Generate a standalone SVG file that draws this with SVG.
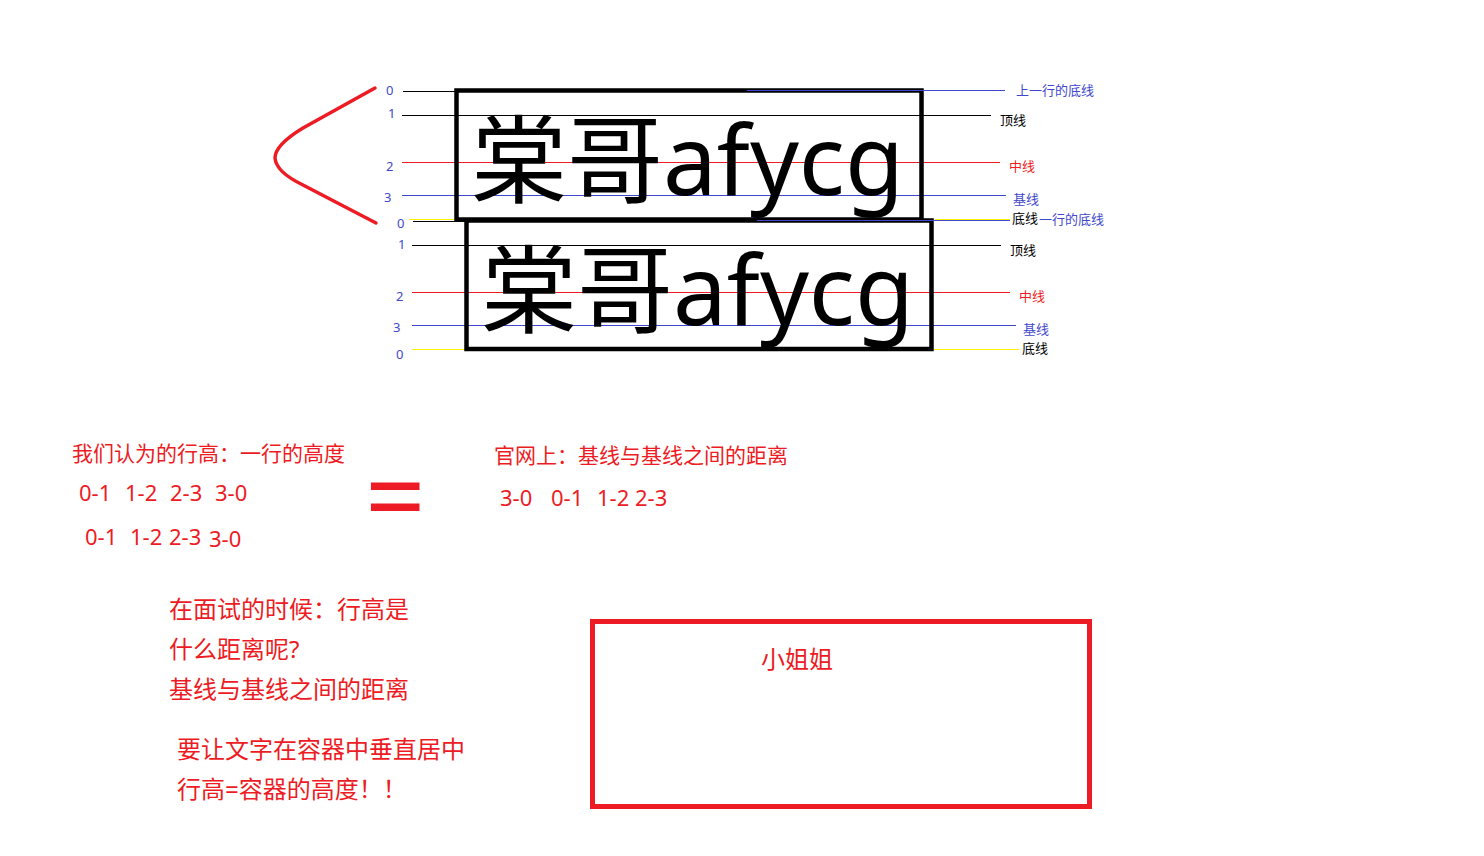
<svg xmlns="http://www.w3.org/2000/svg" width="1484" height="856" viewBox="0 0 1484 856">
<style>
text{font-family:"Noto Sans","Noto Sans CJK SC",sans-serif}
.big{font-size:96px;fill:#000}
.num{font-size:13px;fill:#3f48cc}
.lb{font-size:13px}
.k{fill:#000}.r{fill:#ed1c24}.b{fill:#3f48cc}
.red{fill:#ed1c24}
.t21{font-size:21px}.t22{font-size:22px}.t24{font-size:24px}
line{shape-rendering:crispEdges;stroke-width:1}
.lk{stroke:#000}
.lr{stroke:#ed1c24}
.lbl{stroke:#3f48cc}
.ly{stroke:#fff200}
.box{fill:none;stroke:#000;stroke-width:4.5}
</style>
<rect width="1484" height="856" fill="#fff"/>

<g id="connectors">
  <!-- box1 guide lines -->
  <line class="lk" x1="403" y1="91.5" x2="456" y2="91.5"/>
  <line class="lk" x1="402" y1="115.5" x2="991" y2="115.5"/>
  <line class="lr" x1="402" y1="162.5" x2="1000" y2="162.5"/>
  <line class="lbl" x1="402" y1="195.5" x2="1006" y2="195.5"/>
  <line class="ly" x1="409" y1="219.5" x2="466" y2="219.5"/>
  <line class="ly" x1="935" y1="219.5" x2="1010" y2="219.5"/>
  <!-- box2 guide lines -->
  <line class="lk" x1="413" y1="221.5" x2="466" y2="221.5"/>
  <line class="lk" x1="412" y1="245.5" x2="1001" y2="245.5"/>
  <line class="lr" x1="412" y1="292.5" x2="1010" y2="292.5"/>
  <line class="lbl" x1="412" y1="325.5" x2="1016" y2="325.5"/>
  <line class="ly" x1="412" y1="349.5" x2="1019" y2="349.5"/>
  <!-- red bracket -->
  <path d="M375,88 L303,128 Q275,145 275,158 Q276,172 303,185 L376,223" fill="none" stroke="#ed1c24" stroke-width="3.5" stroke-linecap="round"/>
</g>

<g id="box1">
  <rect class="box" x="456.5" y="90.5" width="465" height="129"/>
  <text class="big" x="471" y="195">棠哥afycg</text>
  <line class="lbl" x1="747" y1="90.5" x2="1005" y2="90.5"/>
</g>

<g id="box2">
  <rect class="box" x="466.5" y="220.5" width="465" height="128.5"/>
  <text class="big" x="481" y="325">棠哥afycg</text>
  <line class="lbl" x1="757" y1="220.5" x2="1010" y2="220.5"/>
</g>

<g id="labels-left">
  <text class="num" x="386" y="95">0</text>
  <text class="num" x="388" y="118">1</text>
  <text class="num" x="386" y="171">2</text>
  <text class="num" x="384" y="202">3</text>
  <text class="num" x="397" y="228">0</text>
  <text class="num" x="398" y="249">1</text>
  <text class="num" x="396" y="301">2</text>
  <text class="num" x="393" y="332">3</text>
  <text class="num" x="396" y="359">0</text>
</g>

<g id="labels-right">
  <text class="lb b" x="1016" y="95">上一行的底线</text>
  <text class="lb k" x="1000" y="125">顶线</text>
  <text class="lb r" x="1009" y="171">中线</text>
  <text class="lb b" x="1013" y="204">基线</text>
  <text class="lb k" x="1012" y="223">底线</text>
  <text class="lb b" x="1039" y="224">一行的底线</text>
  <text class="lb k" x="1010" y="255">顶线</text>
  <text class="lb r" x="1019" y="301">中线</text>
  <text class="lb b" x="1023" y="334">基线</text>
  <text class="lb k" x="1022" y="353">底线</text>
</g>

<g id="note-left">
  <text class="red t21" x="72" y="461">我们认为的行高：一行的高度</text>
  <text class="red t22" y="501"><tspan x="79">0-1</tspan><tspan x="125">1-2</tspan><tspan x="170">2-3</tspan><tspan x="215">3-0</tspan></text>
  <text class="red t22" y="545"><tspan x="85">0-1</tspan><tspan x="130">1-2</tspan><tspan x="169">2-3</tspan></text>
  <text class="red t22" x="209" y="546.5">3-0</text>
</g>

<g id="equals">
  <text class="red" style="font-size:106px" x="365" y="534">=</text>
</g>

<g id="note-right">
  <text class="red t21" x="494" y="463">官网上：基线与基线之间的距离</text>
  <text class="red t22" y="506"><tspan x="500">3-0</tspan><tspan x="551">0-1</tspan><tspan x="597">1-2</tspan><tspan x="635">2-3</tspan></text>
</g>

<g id="note-interview">
  <text class="red t24" x="169" y="618">在面试的时候：行高是</text>
  <text class="red t24" x="169" y="658">什么距离呢?</text>
  <text class="red t24" x="169" y="698">基线与基线之间的距离</text>
  <text class="red t24" x="177" y="758">要让文字在容器中垂直居中</text>
  <text class="red t24" x="177" y="798">行高=容器的高度！！</text>
</g>

<g id="container">
  <rect x="592.5" y="621.5" width="497" height="185" fill="none" stroke="#ed1c24" stroke-width="5"/>
  <text class="red t24" x="761" y="668">小姐姐</text>
</g>
</svg>
